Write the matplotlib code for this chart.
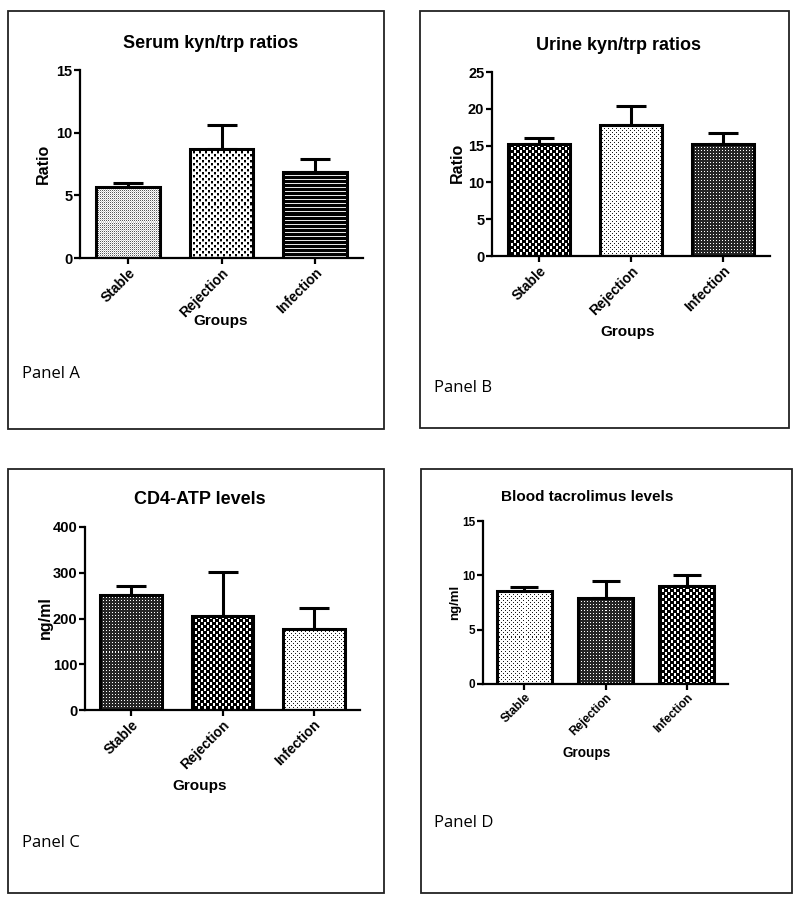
import matplotlib
matplotlib.use('Agg')
import matplotlib.pyplot as plt
from matplotlib.patches import Rectangle
import numpy as np

# data (mean, upper error)
groups = ['Stable', 'Rejection', 'Infection']
serum_ratio = [5.7, 8.7, 6.9]
serum_err = [0.3, 1.9, 1.0]
urine_ratio = [15.2, 17.8, 15.2]
urine_err = [0.9, 2.6, 1.5]
cd4_atp = [252, 205, 177]
cd4_err = [19, 96, 45]
tacro = [8.6, 7.9, 9.0]
tacro_err = [0.3, 1.6, 1.0]

W, H = 800, 900
fig = plt.figure(figsize=(8, 9), dpi=100)
bold = dict(family='Liberation Sans', weight='bold')


# small grey-level tiles used as bar fill textures (1 = white, 0 = black)
def tile(kind):
    if kind == 'fine':
        return np.array([[0.35, 1.0], [1.0, 0.8]])
    if kind == 'coarse':
        t = np.ones((6, 6))
        t[0:2, 0:2] = 0
        t[3:5, 3:5] = 0
        t[2, 0:2] = 0.6
        t[5, 3:5] = 0.6
        return t
    if kind == 'light':
        t = np.ones((4, 4))
        t[0, 0] = 0.1
        t[2, 2] = 0.1
        return t
    if kind == 'check':
        t = np.zeros((6, 6))
        t[0:3, 0:2] = 1
        t[3:6, 3:5] = 1
        return t
    if kind == 'dense':
        t = np.full((3, 3), 0.15)
        t[0, 0] = 1
        return t
    if kind == 'lines':
        t = np.zeros((4, 1))
        t[0, 0] = 0.9
        return t


def px_axes(x0, x1, ytop, ybot):
    return fig.add_axes([x0 / W, 1 - ybot / H, (x1 - x0) / W, (ybot - ytop) / H])


def box(x0, y0, x1, y1):
    fig.patches.append(Rectangle((x0 / W, 1 - y1 / H), (x1 - x0) / W, (y1 - y0) / H,
                                 transform=fig.transFigure, fill=False,
                                 edgecolor='#222222', linewidth=1.3))


def panel(ax, vals, errs, styles, ymax, step, fs_tick=10.5, fs_xt=10, cap=11):
    x = list(range(len(groups)))
    bw = 0.68
    ax.set_xlim(-0.51, 2.51)
    ax.set_ylim(0, ymax)
    bars = ax.bar(x, vals, width=bw, color='white', edgecolor='black',
                  linewidth=2.2, zorder=3)
    for b, st in zip(bars, styles):
        x0, x1 = b.get_x(), b.get_x() + b.get_width()
        (px0, py0), (px1, py1) = ax.transData.transform([(x0, 0), (x1, b.get_height())])
        nw, nh = max(int(round(px1 - px0)), 1), max(int(round(py1 - py0)), 1)
        t = tile(st)
        img = np.tile(t, (nh // t.shape[0] + 1, nw // t.shape[1] + 1))[:nh, :nw]
        im = ax.imshow(img, cmap='gray', vmin=0, vmax=1, extent=(x0, x1, 0, b.get_height()),
                       aspect='auto', interpolation='nearest', zorder=2)
        im.set_clip_path(b)
        b.set_facecolor('none')
    ax.errorbar(x, vals, yerr=[[0] * len(vals), errs], fmt='none', ecolor='black',
                elinewidth=2.2, capsize=cap, capthick=2.2, zorder=1)
    ax.set_xlim(-0.51, 2.51)
    ax.set_ylim(0, ymax)
    ax.set_yticks(range(0, ymax + 1, step))
    ax.spines['top'].set_visible(False)
    ax.spines['right'].set_visible(False)
    for s in ('left', 'bottom'):
        ax.spines[s].set_linewidth(1.6)
    ax.tick_params(width=1.6, length=4, pad=1.5)
    ax.set_xticks(x)
    ax.set_xticklabels(groups, rotation=45, ha='right', rotation_mode='anchor',
                       fontsize=fs_xt, **bold)
    for t in ax.get_yticklabels():
        t.set_fontsize(fs_tick)
        t.set_fontfamily('Liberation Sans')
        t.set_fontweight('bold')


def ftext(x, y, s, size, rot=0, **kw):
    fig.text(x / W, 1 - y / H, s, ha='center', va='center', fontsize=size,
             rotation=rot, **kw)


def plabel(x, y, s):
    fig.text(x / W, 1 - y / H, s, fontsize=12, family='Open Sans', va='center')


# Panel A
box(8, 11, 384, 429)
axA = px_axes(80, 363, 70, 258)
panel(axA, serum_ratio, serum_err, ['fine', 'coarse', 'lines'], 15, 5)
ftext(211, 44, 'Serum kyn/trp ratios', 13, **bold)
ftext(43, 164, 'Ratio', 11.5, rot=90, **bold)
ftext(221, 321, 'Groups', 11, **bold)
plabel(22, 374, 'Panel A')

# Panel B
box(420, 11, 789, 428)
axB = px_axes(492, 770, 72, 256)
panel(axB, urine_ratio, urine_err, ['check', 'light', 'dense'], 25, 5)
ftext(618, 45, 'Urine kyn/trp ratios', 13, **bold)
ftext(457, 163, 'Ratio', 11.5, rot=90, **bold)
ftext(628, 332, 'Groups', 11, **bold)
plabel(434, 388, 'Panel B')

# Panel C
box(8, 469, 384, 893)
axC = px_axes(85, 360, 527, 710)
panel(axC, cd4_atp, cd4_err, ['dense', 'check', 'light'], 400, 100)
ftext(200, 500, 'CD4-ATP levels', 13, **bold)
ftext(45, 618, 'ng/ml', 11.5, rot=90, **bold)
ftext(200, 786, 'Groups', 11, **bold)
plabel(22, 843, 'Panel C')

# Panel D
box(421, 469, 792, 893)
axD = px_axes(483, 728, 521, 684)
panel(axD, tacro, tacro_err, ['light', 'dense', 'check'], 15, 5,
      fs_tick=8.5, fs_xt=8.6, cap=10)
ftext(587, 497, 'Blood tacrolimus levels', 11, **bold)
ftext(455, 602, 'ng/ml', 9.5, rot=90, **bold)
ftext(587, 753, 'Groups', 9.8, **bold)
plabel(434, 823, 'Panel D')

fig.savefig('out.png', dpi=100, facecolor='white')
